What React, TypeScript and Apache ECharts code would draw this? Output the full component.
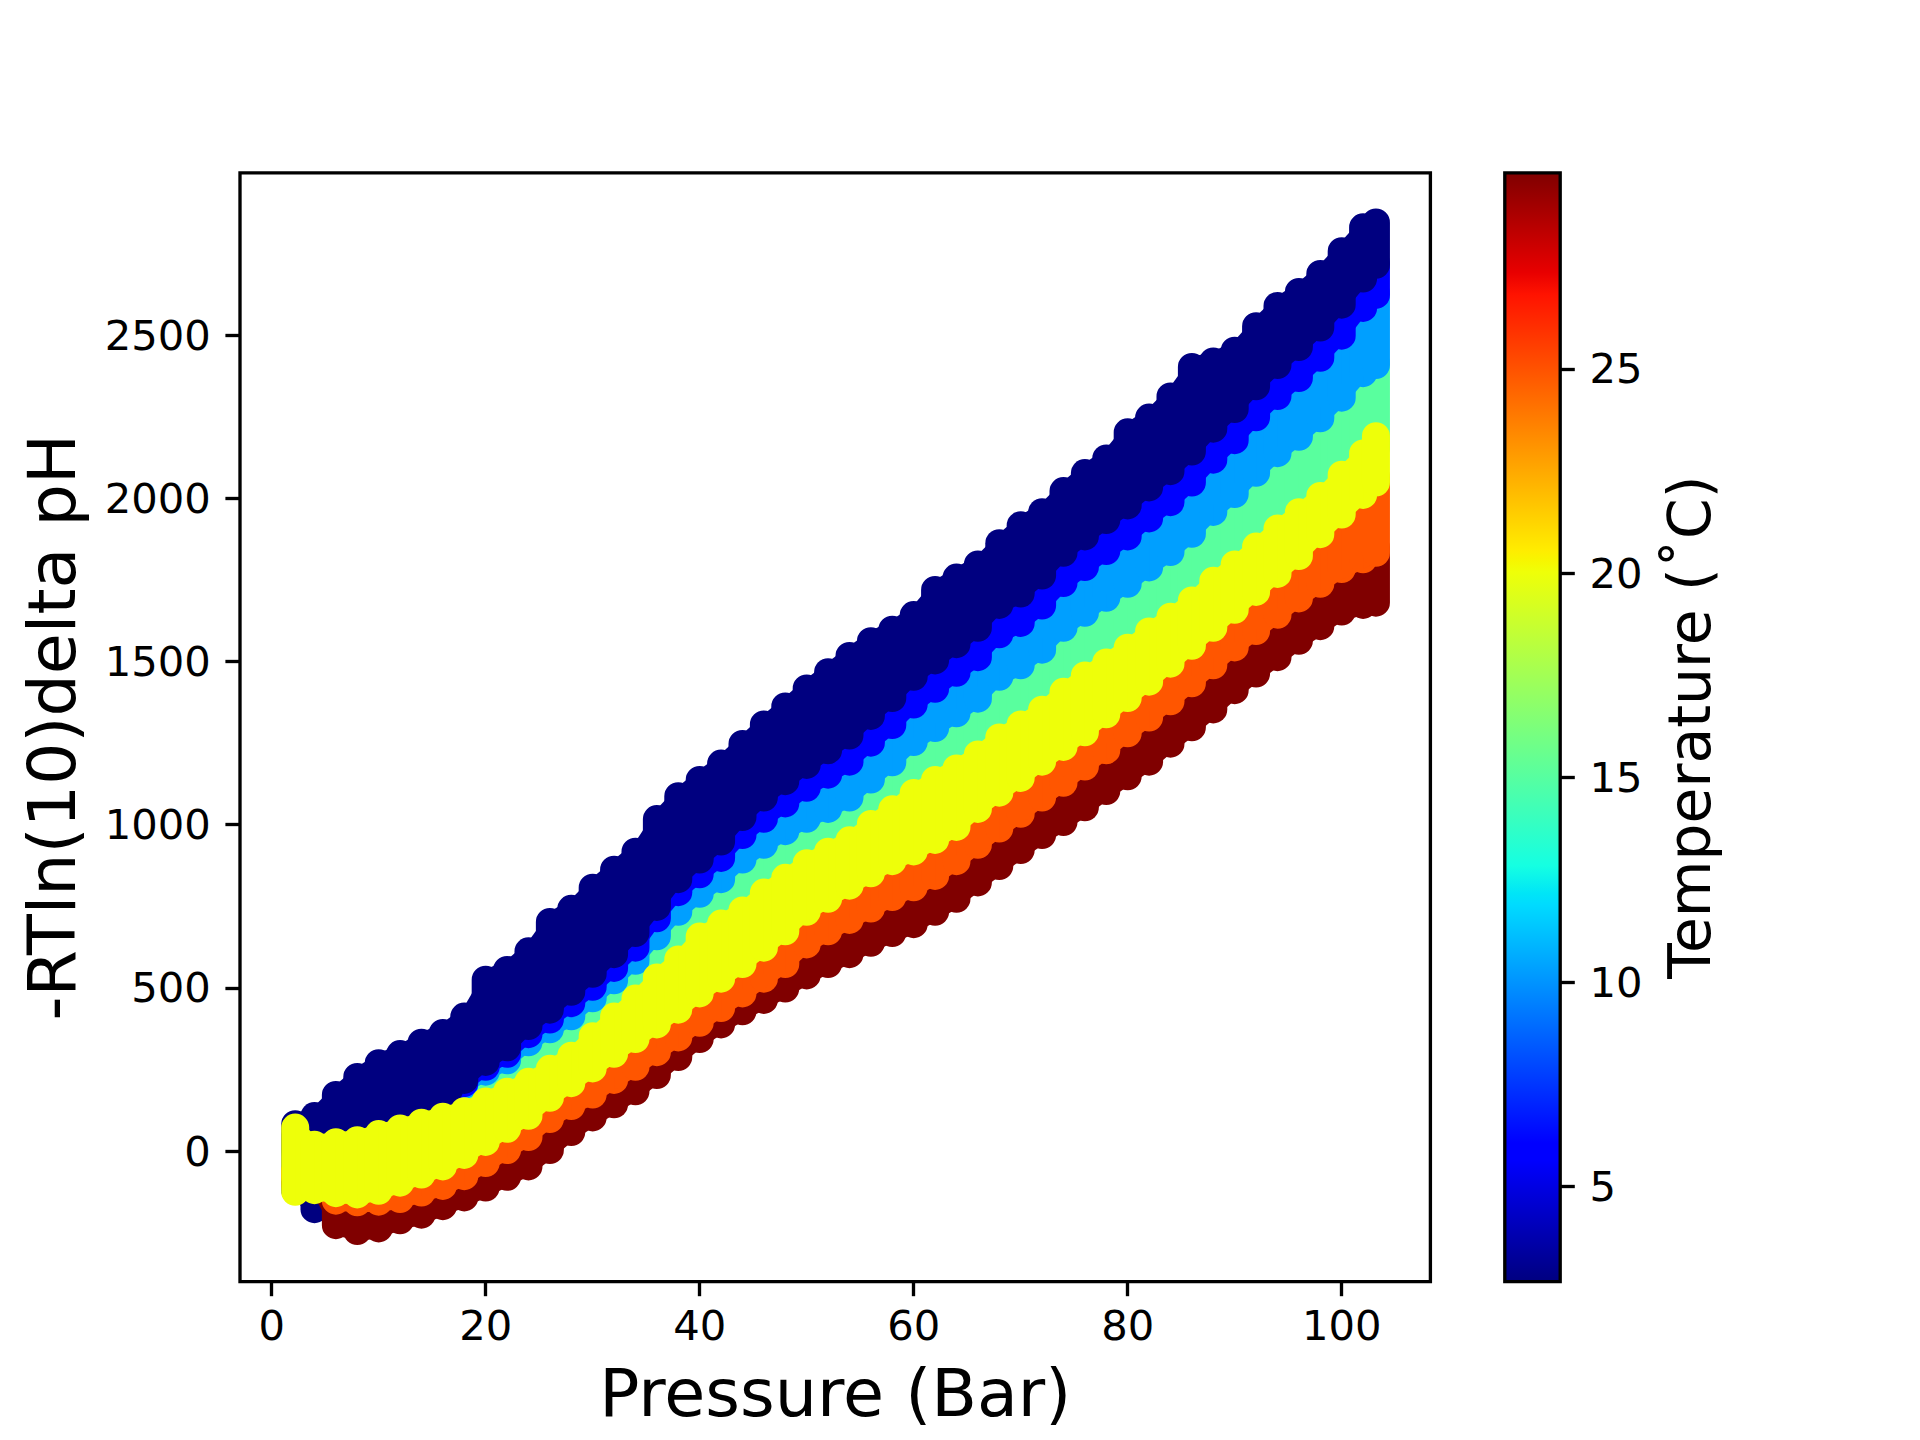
import React, { useEffect, useRef } from 'react';
import * as echarts from 'echarts';

// ---------------- data ----------------
// Pressure positions (Bar) sampled along every temperature run
const PRESSURE = [2.2, 4, 6, 8, 10, 12, 14, 16, 18, 20, 22, 24, 26, 28, 30, 32, 34, 36, 38, 40, 42, 44, 46, 48, 50, 52, 54, 56, 58, 60, 62, 64, 66, 68, 70, 72, 74, 76, 78, 80, 82, 84, 86, 88, 90, 92, 94, 96, 98, 100, 102, 103.2];

// -RTln(10) delta pH: upper and lower envelope of the scattered points of each run
const NAVY_HI = [82, 107, 172, 227, 269, 297, 332, 362, 412, 525, 555, 612, 702, 742, 807, 862, 917, 1017, 1087, 1137, 1187, 1247, 1307, 1362, 1417, 1467, 1517, 1562, 1597, 1642, 1719, 1757, 1797, 1862, 1917, 1957, 2022, 2077, 2122, 2202, 2247, 2312, 2402, 2419, 2452, 2527, 2589, 2632, 2687, 2757, 2830, 2845];
const NAVY_LO = [-120, -178, -120, 0, 20, 40, 50, 70, 218, 273, 318, 383, 433, 488, 543, 603, 668, 748, 833, 893, 948, 1023, 1083, 1133, 1183, 1228, 1273, 1333, 1388, 1453, 1503, 1553, 1603, 1673, 1708, 1763, 1833, 1883, 1933, 1978, 2033, 2083, 2143, 2213, 2273, 2343, 2408, 2463, 2523, 2593, 2673, 2715];

const BLUE_HI = [45, 12, 20, 26, 45, 62, 80, 98, 225, 280, 325, 390, 440, 495, 550, 610, 675, 755, 840, 900, 955, 1030, 1090, 1140, 1190, 1235, 1280, 1340, 1395, 1460, 1510, 1560, 1610, 1680, 1715, 1770, 1840, 1890, 1940, 1985, 2040, 2090, 2150, 2220, 2280, 2350, 2415, 2470, 2530, 2600, 2680, 2722];
const BLUE_LO = [5, -28, -20, -14, 5, 22, 40, 58, 208, 258, 298, 358, 403, 453, 503, 561, 623, 713, 793, 848, 898, 968, 1018, 1065, 1113, 1153, 1193, 1251, 1305, 1368, 1416, 1465, 1513, 1583, 1618, 1671, 1740, 1789, 1838, 1883, 1938, 1988, 2048, 2118, 2178, 2248, 2313, 2368, 2430, 2498, 2583, 2623];

const LBLUE_HI = [40, 7, 15, 21, 40, 57, 75, 93, 215, 265, 305, 365, 410, 460, 510, 568, 630, 720, 800, 855, 905, 975, 1025, 1072, 1120, 1160, 1200, 1258, 1312, 1375, 1423, 1472, 1520, 1590, 1625, 1678, 1747, 1796, 1845, 1890, 1945, 1995, 2055, 2125, 2185, 2255, 2320, 2375, 2437, 2505, 2590, 2630];
const LBLUE_LO = [0, -33, -25, -19, 0, 17, 35, 53, 203, 243, 278, 333, 373, 413, 468, 523, 583, 658, 733, 788, 833, 893, 938, 980, 1018, 1048, 1083, 1138, 1191, 1253, 1296, 1341, 1386, 1453, 1488, 1536, 1603, 1649, 1695, 1738, 1788, 1835, 1891, 1958, 2013, 2078, 2138, 2188, 2245, 2308, 2383, 2408];

const GREEN_HI = [35, 2, 10, 16, 35, 52, 70, 88, 210, 250, 285, 340, 380, 420, 475, 530, 590, 665, 740, 795, 840, 900, 945, 987, 1025, 1055, 1090, 1145, 1198, 1260, 1303, 1348, 1393, 1460, 1495, 1543, 1610, 1656, 1702, 1745, 1795, 1842, 1898, 1965, 2020, 2085, 2145, 2195, 2252, 2315, 2390, 2415];
const GREEN_LO = [-5, -38, -30, -24, -5, 12, 30, 48, 85, 115, 145, 175, 215, 255, 315, 375, 430, 495, 550, 620, 660, 700, 755, 800, 845, 880, 915, 965, 1010, 1060, 1100, 1135, 1178, 1230, 1270, 1315, 1370, 1420, 1460, 1505, 1555, 1600, 1650, 1710, 1760, 1815, 1870, 1920, 1970, 2035, 2100, 2153];

const YELLOW_HI = [72, 19, 27, 33, 52, 69, 87, 105, 122, 152, 182, 212, 252, 292, 352, 412, 467, 532, 587, 657, 697, 737, 792, 837, 882, 917, 952, 1002, 1047, 1097, 1137, 1172, 1215, 1267, 1307, 1352, 1407, 1457, 1497, 1542, 1592, 1637, 1687, 1747, 1797, 1852, 1907, 1957, 2007, 2072, 2137, 2190];
const YELLOW_LO = [-125, -120, -129, -133, -122, -97, -72, -47, -12, 28, 68, 108, 163, 208, 253, 298, 343, 388, 433, 483, 528, 573, 623, 673, 733, 773, 813, 851, 888, 918, 953, 993, 1048, 1098, 1143, 1193, 1238, 1283, 1338, 1388, 1438, 1493, 1548, 1603, 1658, 1713, 1768, 1823, 1890, 1950, 2010, 2048];

const ORANGE_HI = [-60, -90, -112, -116, -105, -80, -55, -30, 5, 45, 85, 125, 180, 225, 270, 315, 360, 405, 450, 500, 545, 590, 640, 690, 750, 790, 830, 868, 905, 935, 970, 1010, 1065, 1115, 1160, 1210, 1255, 1300, 1355, 1405, 1455, 1510, 1565, 1620, 1675, 1730, 1785, 1840, 1907, 1967, 2027, 2065];
const ORANGE_LO = [-80, -110, -152, -157, -155, -147, -127, -107, -77, -37, 3, 43, 98, 138, 173, 218, 258, 303, 348, 393, 438, 483, 528, 573, 633, 673, 708, 743, 778, 808, 843, 888, 938, 988, 1033, 1083, 1128, 1178, 1228, 1280, 1328, 1378, 1433, 1488, 1543, 1593, 1643, 1693, 1738, 1783, 1813, 1833];

const DARKRED_HI = [-60, -90, -135, -140, -138, -130, -110, -90, -60, -20, 20, 60, 115, 155, 190, 235, 275, 320, 365, 410, 455, 500, 545, 590, 650, 690, 725, 760, 795, 825, 860, 905, 955, 1005, 1050, 1100, 1145, 1195, 1245, 1297, 1345, 1395, 1450, 1505, 1560, 1610, 1660, 1710, 1755, 1800, 1830, 1850];
const DARKRED_LO = [-100, -110, -227, -245, -237, -212, -195, -169, -142, -112, -79, -47, 3, 58, 103, 143, 183, 233, 288, 343, 388, 428, 463, 498, 538, 573, 603, 638, 668, 695, 733, 773, 823, 873, 922, 968, 1008, 1053, 1103, 1148, 1193, 1248, 1298, 1353, 1412, 1463, 1513, 1563, 1608, 1653, 1673, 1680];

// Temperature (°C) of each run, and colour scale limits
const TEMPERATURES = [2.67, 5.8, 10.3, 15.1, 20.0, 24.9, 29.8];
const TEMP_MIN = 2.67;
const TEMP_MAX = 29.8;

// axis limits and tick labels
const X_MIN = -2.96;
const X_MAX = 108.29;
const Y_MIN = -400;
const Y_MAX = 2997;
const X_TICKS = [0, 20, 40, 60, 80, 100];
const Y_TICKS = [0, 500, 1000, 1500, 2000, 2500];
const CBAR_TICKS = [5, 10, 15, 20, 25];

// drawing order (first = bottom layer)
const RUNS = [
  { temp: TEMPERATURES[3], lo: GREEN_LO, hi: GREEN_HI },
  { temp: TEMPERATURES[2], lo: LBLUE_LO, hi: LBLUE_HI },
  { temp: TEMPERATURES[1], lo: BLUE_LO, hi: BLUE_HI },
  { temp: TEMPERATURES[0], lo: NAVY_LO, hi: NAVY_HI },
  { temp: TEMPERATURES[6], lo: DARKRED_LO, hi: DARKRED_HI },
  { temp: TEMPERATURES[5], lo: ORANGE_LO, hi: ORANGE_HI },
  { temp: TEMPERATURES[4], lo: YELLOW_LO, hi: YELLOW_HI },
];

// ---------------- styling ----------------
const FONT = 'DejaVu Sans';
const AX_L = 240;
const AX_T = 172.8;
const AX_W = 1190.4;
const AX_H = 1108.8;
const CB_L = 1504.8;
const CB_W = 55.4;
const LW = 3.33;
const TICK_LEN = 14.6;
const PAD = 14.6;
const FS_TICK = 41.7;
const FS_LABEL = 66.7;
const FS_CBAR_LABEL = 58.3;
const MARKER = 28;
const JOIN = 0.72; // how far (in marker radii) the fill between neighbouring markers reaches

// matplotlib "jet" colormap
const JET_R: number[][] = [[0, 0], [0.35, 0], [0.66, 1], [0.89, 1], [1, 0.5]];
const JET_G: number[][] = [[0, 0], [0.125, 0], [0.375, 1], [0.64, 1], [0.91, 0], [1, 0]];
const JET_B: number[][] = [[0, 0.5], [0.11, 1], [0.34, 1], [0.65, 0], [1, 0]];
const JET_BREAKS = [0, 0.11, 0.125, 0.34, 0.35, 0.375, 0.64, 0.65, 0.66, 0.89, 0.91, 1];

function seg(pts: number[][], t: number): number {
  for (let i = 0; i < pts.length - 1; i++) {
    const [x0, y0] = pts[i];
    const [x1, y1] = pts[i + 1];
    if (t <= x1) return y0 + ((y1 - y0) * (t - x0)) / (x1 - x0);
  }
  return pts[pts.length - 1][1];
}
function jet(t: number): string {
  const c = Math.max(0, Math.min(1, t));
  const r = Math.round(seg(JET_R, c) * 255);
  const g = Math.round(seg(JET_G, c) * 255);
  const b = Math.round(seg(JET_B, c) * 255);
  return `rgb(${r},${g},${b})`;
}
const tempColor = (T: number) => jet((T - TEMP_MIN) / (TEMP_MAX - TEMP_MIN));

export default function App() {
  const ref = useRef<HTMLDivElement>(null);

  useEffect(() => {
    document.body.style.margin = '0';
    if (!ref.current) return;
    const chart = echarts.init(ref.current, undefined, { renderer: 'svg' });

    const bandSeries = RUNS.map((run) => {
      const color = tempColor(run.temp);
      return {
        type: 'custom',
        name: `${run.temp} °C`,
        xAxisIndex: 0,
        yAxisIndex: 0,
        silent: true,
        data: PRESSURE.map((p, i) => [p, run.lo[i], run.hi[i]]),
        encode: { x: 0, y: [1, 2] },
        renderItem: (params: any, api: any) => {
          const i = params.dataIndex;
          const x = api.value(0);
          const pHi = api.coord([x, api.value(2)]);
          const pLo = api.coord([x, api.value(1)]);
          const r = MARKER / 2;
          const children: any[] = [
            {
              type: 'rect',
              shape: {
                x: pHi[0] - r,
                y: pHi[1] - r,
                width: 2 * r,
                height: pLo[1] - pHi[1] + 2 * r,
                r: r,
              },
              style: { fill: color },
            },
          ];
          if (i < PRESSURE.length - 1) {
            const qHi = api.coord([PRESSURE[i + 1], run.hi[i + 1]]);
            const qLo = api.coord([PRESSURE[i + 1], run.lo[i + 1]]);
            const k = JOIN * r;
            children.push({
              type: 'polygon',
              shape: {
                points: [
                  [pHi[0], pHi[1] - k],
                  [qHi[0], qHi[1] - k],
                  [qLo[0], qLo[1] + k],
                  [pLo[0], pLo[1] + k],
                ],
              },
              style: { fill: color },
            });
          }
          return { type: 'group', children };
        },
      };
    });

    const stops = JET_BREAKS.map((t) => ({ offset: t, color: jet(t) }));

    const colorbarSeries = {
      type: 'custom',
      xAxisIndex: 1,
      yAxisIndex: 1,
      silent: true,
      data: [[0, TEMP_MIN, TEMP_MAX]],
      encode: { x: 0, y: [1, 2] },
      renderItem: (_params: any, api: any) => {
        const p1 = api.coord([0, api.value(2)]);
        const p2 = api.coord([1, api.value(1)]);
        const shape = { x: p1[0], y: p1[1], width: p2[0] - p1[0], height: p2[1] - p1[1] };
        return {
          type: 'group',
          children: [
            {
              type: 'rect',
              shape,
              style: {
                fill: { type: 'linear', x: 0, y: 1, x2: 0, y2: 0, colorStops: stops, global: false },
              },
            },
            {
              type: 'rect',
              shape,
              style: { fill: 'none', stroke: '#000', lineWidth: LW },
            },
          ],
        };
      },
    };

    const tickLabel = {
      fontSize: FS_TICK,
      color: '#000',
      fontFamily: FONT,
      formatter: (v: number) => String(v),
    };

    const option: any = {
      animation: false,
      backgroundColor: '#ffffff',
      textStyle: { fontFamily: FONT },
      grid: [
        { left: AX_L, top: AX_T, width: AX_W, height: AX_H, show: true, borderColor: '#000', borderWidth: LW, backgroundColor: 'rgba(0,0,0,0)' },
        { left: CB_L, top: AX_T, width: CB_W, height: AX_H, show: false },
      ],
      xAxis: [
        {
          gridIndex: 0,
          type: 'value',
          min: X_MIN,
          max: X_MAX,
          axisLine: { show: false, onZero: false },
          splitLine: { show: false },
          axisTick: { show: true, length: TICK_LEN, lineStyle: { color: '#000', width: LW }, customValues: X_TICKS },
          axisLabel: { ...tickLabel, customValues: X_TICKS, margin: TICK_LEN + PAD - 6 },
        },
        { gridIndex: 1, type: 'value', min: 0, max: 1, show: false, axisLine: { onZero: false } },
      ],
      yAxis: [
        {
          gridIndex: 0,
          type: 'value',
          min: Y_MIN,
          max: Y_MAX,
          axisLine: { show: false, onZero: false },
          splitLine: { show: false },
          axisTick: { show: true, length: TICK_LEN, lineStyle: { color: '#000', width: LW }, customValues: Y_TICKS },
          axisLabel: { ...tickLabel, customValues: Y_TICKS, margin: TICK_LEN + PAD },
        },
        {
          gridIndex: 1,
          type: 'value',
          position: 'right',
          min: TEMP_MIN,
          max: TEMP_MAX,
          axisLine: { show: false, onZero: false },
          splitLine: { show: false },
          axisTick: { show: true, length: TICK_LEN, lineStyle: { color: '#000', width: LW }, customValues: CBAR_TICKS },
          axisLabel: { ...tickLabel, customValues: CBAR_TICKS, margin: TICK_LEN + PAD },
        },
      ],
      graphic: [
        {
          type: 'text',
          x: AX_L + AX_W / 2,
          y: 1393,
          silent: true,
          style: { text: 'Pressure (Bar)', fontSize: FS_LABEL, fontFamily: FONT, fill: '#000', align: 'center', verticalAlign: 'middle' },
        },
        {
          type: 'text',
          x: 52,
          y: AX_T + AX_H / 2,
          rotation: Math.PI / 2,
          silent: true,
          style: { text: '-RTln(10)delta pH', fontSize: FS_LABEL, fontFamily: FONT, fill: '#000', align: 'center', verticalAlign: 'middle' },
        },
        {
          type: 'text',
          x: 1690,
          y: AX_T + AX_H / 2,
          rotation: Math.PI / 2,
          silent: true,
          style: { text: 'Temperature (˚C)', fontSize: FS_CBAR_LABEL, fontFamily: FONT, fill: '#000', align: 'center', verticalAlign: 'middle' },
        },
      ],
      series: [...bandSeries, colorbarSeries],
    };

    chart.setOption(option);
    return () => {
      chart.dispose();
    };
  }, []);

  return <div ref={ref} style={{ width: 1920, height: 1440 }} />;
}
